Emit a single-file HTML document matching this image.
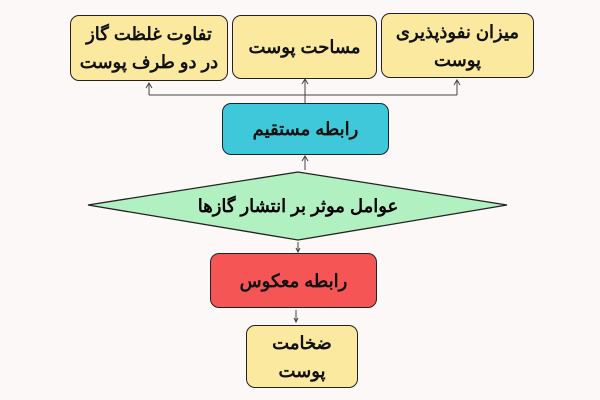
<!DOCTYPE html>
<html><head><meta charset="utf-8"><style>
body{margin:0;width:600px;height:400px;background:#fcf8f7;overflow:hidden;position:relative;font-family:"Liberation Sans","Noto Sans CJK SC",sans-serif;}
.b{position:absolute;box-sizing:border-box;border:1.3px solid #222;border-radius:9px;display:flex;align-items:center;justify-content:center;text-align:center;direction:rtl;font-weight:bold;font-size:18px;line-height:28px;color:#111;}
.y{background:#fbe9a0}
</style></head><body>
<svg width="600" height="400" style="position:absolute;left:0;top:0">
<g fill="none" stroke="#444" stroke-width="1">
<path d="M305 103 V80 M149 95 H457 M149 95 V84 M457 95 V80"/>
<path d="M146 88 L149 83 L152 88 M302 84 L305 79 L308 84 M454 85 L457 80 L460 85"/>
<path d="M305 170 V157 M302 161 L305 156 L308 161"/>
<path d="M298 242 V252 M296 248 L298 252 L300 248"/>
<path d="M296 310 V322 M294 318 L296 322 L298 318"/>
</g>
<polygon points="88,205 298,172 507,205 298,240" fill="#b1f0c0" stroke="#222" stroke-width="1.3"/>
<text x="298" y="212" text-anchor="middle" font-family="Liberation Sans, Noto Sans CJK SC, sans-serif" font-weight="bold" font-size="18" direction="rtl">عوامل موثر بر انتشار گازها</text>
</svg>
<div class="b y" style="left:70px;top:15px;width:158px;height:66px">تفاوت غلظت گاز<br>در دو طرف پوست</div>
<div class="b y" style="left:232px;top:15px;width:145px;height:64px">مساحت پوست</div>
<div class="b y" style="left:381px;top:13px;width:153px;height:65px">میزان نفوذپذیری<br>پوست</div>
<div class="b" style="left:222px;top:103px;width:167px;height:52px;background:#3ec8da">رابطه مستقیم</div>
<div class="b" style="left:210px;top:253px;width:167px;height:55px;background:#f65556">رابطه معکوس</div>
<div class="b y" style="left:246px;top:325px;width:112px;height:63px">ضخامت<br>پوست</div>
</body></html>
